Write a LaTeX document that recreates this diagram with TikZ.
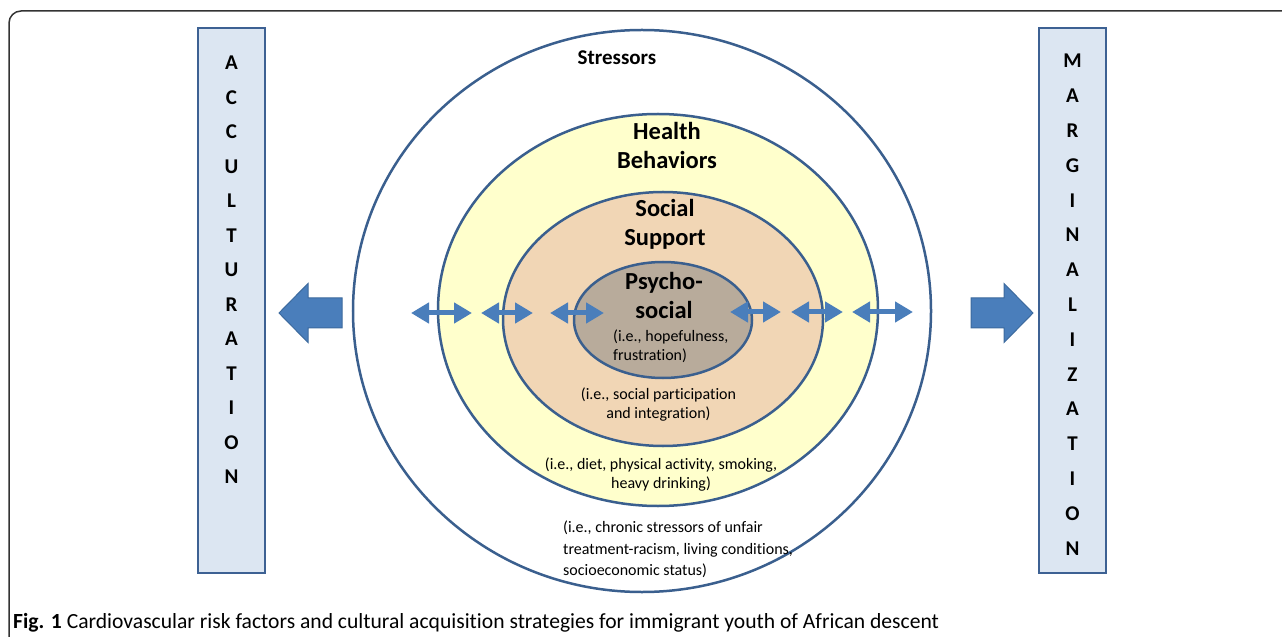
\documentclass[tikz,border=0pt]{standalone}
\usepackage{fontspec}
\setmainfont{Carlito}[Ligatures={NoCommon}]
\usetikzlibrary{arrows.meta,shapes.geometric}
\definecolor{edgeblue}{HTML}{3A5F8E}
\definecolor{yel}{HTML}{FFFFCC}
\definecolor{peach}{HTML}{F1D6B5}
\definecolor{greyb}{HTML}{B8AB9B}
\definecolor{arrowblue}{HTML}{4A7EBB}
\definecolor{arrowedge}{HTML}{3C6A9E}
\definecolor{boxfill}{HTML}{DCE6F2}
\definecolor{boxedge}{HTML}{3D6193}
\definecolor{framecol}{HTML}{333333}
\begin{document}
\begin{tikzpicture}[x=1bp,y=-1bp,
 ring/.style={ellipse, draw=edgeblue, line width=2.5bp, inner sep=0pt},
 head/.style={font=\fontsize{24.5bp}{29bp}\selectfont\bfseries, align=center, inner sep=0pt},
 note/.style={font=\fontsize{16bp}{18.5bp}\selectfont, align=center, inner sep=0pt},
 sidebox/.style={draw=boxedge, fill=boxfill, line width=2bp, minimum width=67bp, minimum height=545bp, inner sep=0pt},
 letter/.style={font=\fontsize{21bp}{24bp}\selectfont\bfseries, inner sep=0pt},
 dbl/.style={draw=arrowblue, line width=5bp, {Triangle[length=18bp,width=20bp]}-{Triangle[length=18bp,width=20bp]}},
 block/.style={fill=arrowblue, draw=arrowedge, line width=1bp}]
\useasboundingbox (0,0) rectangle (1282,637);
\fill[white] (0,0) rectangle (1282,637);
% frame
\draw[line width=1.5bp, draw=framecol, rounded corners=12bp] (9,660) -- (9,11) -- (1300,11);
% rings
\node[ring, minimum width=578bp, minimum height=562bp] (stress) at (642,311) {};
\node[ring, fill=yel, minimum width=440bp, minimum height=392bp] (health) at (658,310) {};
\node[ring, fill=peach, minimum width=320bp, minimum height=254bp] (social) at (663,319) {};
\node[ring, fill=greyb, minimum width=178bp, minimum height=116bp] (psycho) at (663,320) {};
% side boxes
\node[sidebox] (accbox) at (231.5,300.5) {};
\node[sidebox] (marbox) at (1072.5,300.5) {};
\foreach \ch [count=\i from 0] in {A,C,C,U,L,T,U,R,A,T,I,O,N}
  \node[letter] (acc\i) at (231.5,63+34.5*\i) {\ch};
\foreach \ch [count=\i from 0] in {M,A,R,G,I,N,A,L,I,Z,A,T,I,O,N}
  \node[letter] (mar\i) at (1072.5,61+34.8*\i) {\ch};
% block arrows
\draw[block] (342,298) -- (308,298) -- (308,283.5) -- (279,313) -- (308,342.5) -- (308,328) -- (342,328) -- cycle;
\draw[block] (971,298) -- (1004,298) -- (1004,283.5) -- (1033,313) -- (1004,342.5) -- (1004,328) -- (971,328) -- cycle;
% double arrows
\coordinate (d1a) at (411,313); \coordinate (d1b) at (472,313);
\coordinate (d2a) at (481,313); \coordinate (d2b) at (533,313);
\coordinate (d3a) at (550,313); \coordinate (d3b) at (604,313);
\coordinate (d4a) at (730,312); \coordinate (d4b) at (781,312);
\coordinate (d5a) at (791,312); \coordinate (d5b) at (843,312);
\coordinate (d6a) at (852,312); \coordinate (d6b) at (913,312);
\draw[dbl] (d1a) -- (d1b);
\draw[dbl] (d2a) -- (d2b);
\draw[dbl] (d3a) -- (d3b);
\draw[dbl] (d4a) -- (d4b);
\draw[dbl] (d5a) -- (d5b);
\draw[dbl] (d6a) -- (d6b);
% texts
\node[head, font=\fontsize{21bp}{29bp}\selectfont\bfseries] (tstress) at (617,58) {Stressors};
\node[head] (thealth) at (667,145.5) {Health\\Behaviors};
\node[head] (tsocial) at (665,224.5) {Social\\Support};
\node[head] (tpsycho) at (664,295.5) {Psycho-\\social};
\node[note, align=left, anchor=west] (npsycho) at (613,346.5) {(i.e., hopefulness,\\frustration)};
\node[note] (nsocial) at (658.5,404.5) {(i.e., social participation\\and integration)};
\node[note] (nhealth) at (661,474.5) {(i.e., diet, physical activity, smoking,\\heavy drinking)};
\node[note, align=left, anchor=west, font=\fontsize{16bp}{21.5bp}\selectfont] (nstress) at (563,549.5) {(i.e., chronic stressors of unfair\\treatment-racism, living conditions,\\socioeconomic status)};
% caption
\node[anchor=base west, inner sep=0pt, font=\fontsize{21.6bp}{24bp}\selectfont] (caption) at (13,628) {\textbf{Fig. 1} Cardiovascular risk factors and cultural acquisition strategies for immigrant youth of African descent};
\end{tikzpicture}
\end{document}
